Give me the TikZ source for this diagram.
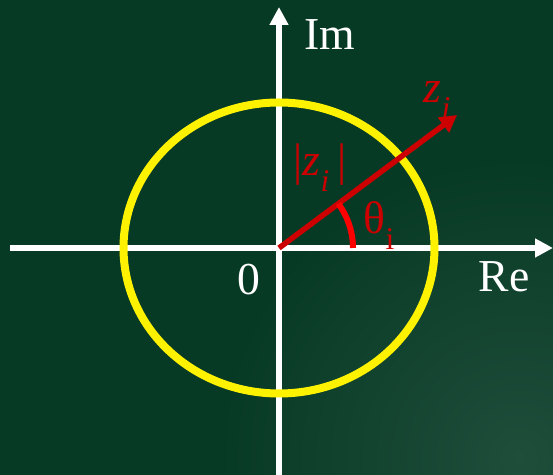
\documentclass[tikz,border=0pt]{standalone}
\usepackage{fontspec}
\setmainfont{Liberation Serif}
\usetikzlibrary{arrows.meta}
\definecolor{boardgreen}{HTML}{073A25}
\definecolor{boardlight}{HTML}{1F4E3B}
\definecolor{vecred}{HTML}{CC0000}
\newcommand{\lowsub}[1]{\raisebox{-0.35em}{\fontsize{18}{18}\selectfont #1}}
\tikzset{
  axisline/.style={white,line width=0.11cm,-{Triangle[length=0.36cm,width=0.36cm]}},
  vecline/.style={vecred,line width=0.11cm,-{Triangle[length=0.34cm,width=0.36cm]}},
  anglearc/.style={red,line width=0.12cm},
  lbl/.style={white,font=\fontsize{26}{30}\selectfont,inner sep=0pt},
  redlbl/.style={vecred,font=\fontsize{26}{30}\selectfont,inner sep=0pt}
}
\begin{document}
\begin{tikzpicture}[x=0.02cm,y=0.02cm]
  % 背景
  \fill[boardgreen] (-279,-227) rectangle (274,248);
  \begin{scope}
    \clip (-279,-227) rectangle (274,248);
    \shade[inner color=boardlight,outer color=boardgreen] (240,-210) circle (300);
  \end{scope}
  \useasboundingbox (-279,-227) rectangle (274,248);

  \coordinate (O) at (0,0);
  \coordinate (xl) at (-269,0);
  \coordinate (xr) at (274,0);
  \coordinate (yb) at (0,-227);
  \coordinate (yt) at (0,241);
  \coordinate (zt) at (178,133);

  % 坐标轴
  \draw[axisline] (xl) -- (xr);
  \draw[axisline] (yb) -- (yt);

  % 单位圆
  \draw[yellow,line width=0.16cm] (O) ellipse (155.5 and 145.5);

  % 向量与角
  \draw[vecline] (O) -- (zt);
  \draw[anglearc] (74,0) arc (0:36.8:74);

  % 标注
  \node[lbl] (im) at (51,213) {Im};
  \node[lbl] (re) at (225,-29) {Re};
  \node[lbl] (zero) at (-30,-32) {0};
  \node[redlbl] (zi) at (158,148) {\textit{z}\lowsub{\textit{i}}};
  \node[redlbl] (absz) at (41,80) {|\textit{z}\lowsub{\textit{i}}\,|};
  \node[redlbl] (theta) at (100,22) {θ\lowsub{i}};
\end{tikzpicture}
\end{document}
